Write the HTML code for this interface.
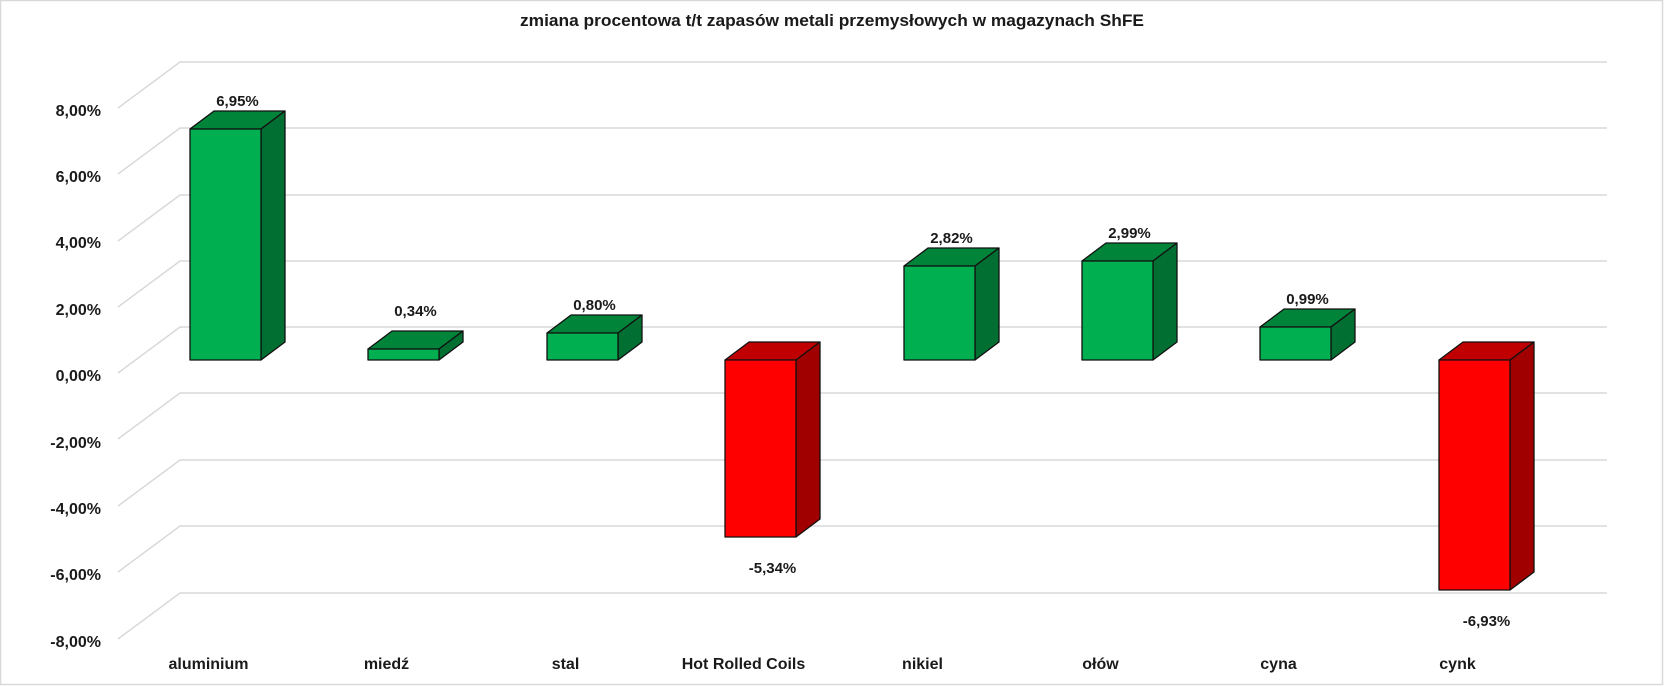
<!DOCTYPE html>
<html><head><meta charset="utf-8"><style>
html,body{margin:0;padding:0;background:#fff;}
svg{display:block;}
text{font-family:"Liberation Sans",Arial,sans-serif;font-weight:bold;fill:#1a1a1a;}
</style></head><body>
<svg width="1664" height="686" viewBox="0 0 1664 686" xmlns="http://www.w3.org/2000/svg">
<rect x="0.5" y="0.5" width="1662" height="684" fill="#fff" stroke="#d9d9d9" stroke-width="1.5"/>
<text x="832" y="26" text-anchor="middle" font-size="17" textLength="624" lengthAdjust="spacingAndGlyphs">zmiana procentowa t/t zapasów metali przemysłowych w magazynach ShFE</text>
<g stroke="#d9d9d9" stroke-width="1.5" fill="none">
<polyline points="118,108 180,62 1607,62"/>
<polyline points="118,174 180,128 1607,128"/>
<polyline points="118,241 180,195 1607,195"/>
<polyline points="118,307 180,261 1607,261"/>
<polyline points="118,373 180,327 1607,327"/>
<polyline points="118,439 180,393 1607,393"/>
<polyline points="118,506 180,460 1607,460"/>
<polyline points="118,572 180,526 1607,526"/>
<polyline points="118,639 180,593 1607,593"/>
</g>
<g font-size="16" text-anchor="end">
<text x="101" y="116">8,00%</text>
<text x="101" y="182">6,00%</text>
<text x="101" y="248">4,00%</text>
<text x="101" y="315">2,00%</text>
<text x="101" y="381">0,00%</text>
<text x="101" y="448">-2,00%</text>
<text x="101" y="514">-4,00%</text>
<text x="101" y="580">-6,00%</text>
<text x="101" y="647">-8,00%</text>
</g>
<g stroke="#111" stroke-width="1.3" stroke-linejoin="round">
<polygon points="190,129 214,111 285,111 261,129" fill="#00843A"/>
<polygon points="261,129 285,111 285,342 261,360" fill="#006F31"/>
<rect x="190" y="129" width="71" height="231" fill="#00B050"/>

<polygon points="368,349 392,331 463,331 439,349" fill="#00843A"/>
<polygon points="439,349 463,331 463,342 439,360" fill="#006F31"/>
<rect x="368" y="349" width="71" height="11" fill="#00B050"/>

<polygon points="547,333 571,315 642,315 618,333" fill="#00843A"/>
<polygon points="618,333 642,315 642,342 618,360" fill="#006F31"/>
<rect x="547" y="333" width="71" height="27" fill="#00B050"/>

<polygon points="725,360 749,342 820,342 796,360" fill="#C00000"/>
<polygon points="796,360 820,342 820,519 796,537" fill="#A00000"/>
<rect x="725" y="360" width="71" height="177" fill="#FF0000"/>

<polygon points="904,266 928,248 999,248 975,266" fill="#00843A"/>
<polygon points="975,266 999,248 999,342 975,360" fill="#006F31"/>
<rect x="904" y="266" width="71" height="94" fill="#00B050"/>

<polygon points="1082,261 1106,243 1177,243 1153,261" fill="#00843A"/>
<polygon points="1153,261 1177,243 1177,342 1153,360" fill="#006F31"/>
<rect x="1082" y="261" width="71" height="99" fill="#00B050"/>

<polygon points="1260,327 1284,309 1355,309 1331,327" fill="#00843A"/>
<polygon points="1331,327 1355,309 1355,342 1331,360" fill="#006F31"/>
<rect x="1260" y="327" width="71" height="33" fill="#00B050"/>

<polygon points="1439,360 1463,342 1534,342 1510,360" fill="#C00000"/>
<polygon points="1510,360 1534,342 1534,572 1510,590" fill="#A00000"/>
<rect x="1439" y="360" width="71" height="230" fill="#FF0000"/>
</g>
<g font-size="15" text-anchor="middle">
<text x="237.5" y="106">6,95%</text>
<text x="415.5" y="316">0,34%</text>
<text x="594.5" y="310">0,80%</text>
<text x="772.5" y="573">-5,34%</text>
<text x="951.5" y="243">2,82%</text>
<text x="1129.5" y="238">2,99%</text>
<text x="1307.5" y="304">0,99%</text>
<text x="1486.5" y="626">-6,93%</text>
</g>
<g font-size="16" text-anchor="middle">
<text x="208.5" y="669">aluminium</text>
<text x="386.5" y="669">miedź</text>
<text x="565.5" y="669">stal</text>
<text x="743.5" y="669">Hot Rolled Coils</text>
<text x="922.5" y="669">nikiel</text>
<text x="1100.5" y="669">ołów</text>
<text x="1278.5" y="669">cyna</text>
<text x="1457.5" y="669">cynk</text>
</g>
</svg>
</body></html>
